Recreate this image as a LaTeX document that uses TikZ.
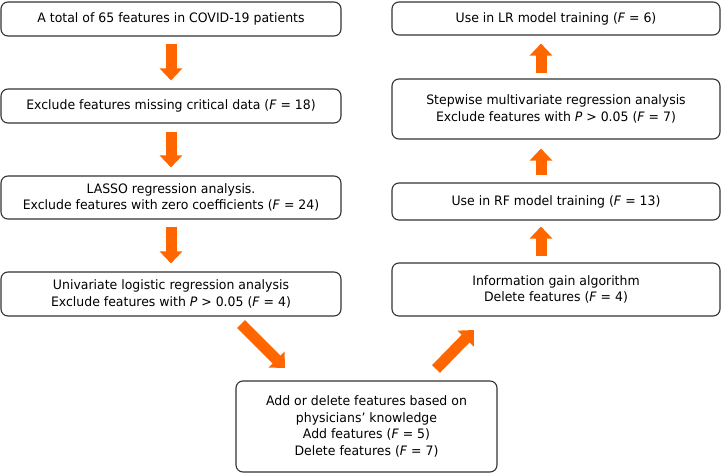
\documentclass[tikz,border=0pt]{standalone}
\usepackage{fontspec}
\setmainfont[FakeStretch=0.96]{DejaVu Sans}
\usetikzlibrary{arrows.meta}
\definecolor{arrorange}{HTML}{FF6600}
\definecolor{boxline}{HTML}{333333}
\tikzset{
  fbox/.style={draw=boxline, line width=1.1pt, rounded corners=7pt, align=center,
    inner sep=0pt, font=\fontsize{13}{16.8}\selectfont, text=black},
  barrow/.style={draw=arrorange, line width=11pt,
    -{Triangle[width=22pt,length=12pt]}}
}
\begin{document}
\begin{tikzpicture}[x=1pt,y=-1pt]
\useasboundingbox (0,0) rectangle (721,473);
% left column
\node[fbox, minimum width=340pt, minimum height=34pt] (L1) at (171,19)
  {A total of 65 features in COVID-19 patients};
\node[fbox, minimum width=340pt, minimum height=34pt] (L2) at (171,106)
  {Exclude features missing critical data (\textit{F} = 18)};
\node[fbox, minimum width=340pt, minimum height=43pt] (L3) at (171,197.5)
  {LASSO regression analysis.\\Exclude features with zero coefficients (\textit{F} = 24)};
\node[fbox, minimum width=340pt, minimum height=44pt] (L4) at (171,294)
  {Univariate logistic regression analysis\\Exclude features with \textit{P} > 0.05 (\textit{F} = 4)};
% bottom
\node[fbox, minimum width=261pt, minimum height=91pt] (B) at (366.5,426.5)
  {Add or delete features based on\\physicians’ knowledge\\Add features (\textit{F} = 5)\\Delete features (\textit{F} = 7)};
% right column
\node[fbox, minimum width=328pt, minimum height=33pt] (R1) at (556,18.5)
  {Use in LR model training (\textit{F} = 6)};
\node[fbox, minimum width=328pt, minimum height=60pt] (R2) at (556,109)
  {Stepwise multivariate regression analysis\\Exclude features with \textit{P} > 0.05 (\textit{F} = 7)};
\node[fbox, minimum width=328pt, minimum height=37pt] (R3) at (556,201.5)
  {Use in RF model training (\textit{F} = 13)};
\node[fbox, minimum width=328pt, minimum height=53pt] (R4) at (556,289.5)
  {Information gain algorithm\\Delete features (\textit{F} = 4)};
% arrows
\draw[barrow, shorten <=7pt, shorten >=8pt] (L1.south) -- (L2.north);
\draw[barrow, shorten <=8pt, shorten >=8pt] (L2.south) -- (L3.north);
\draw[barrow, shorten <=7pt, shorten >=8pt] (L3.south) -- (L4.north);
\coordinate (ra) at (541,0);
\draw[barrow, shorten <=6pt, shorten >=6pt] (R4.north -| ra) -- (R3.south -| ra);
\draw[barrow, shorten <=7pt, shorten >=9pt] (R3.north -| ra) -- (R2.south -| ra);
\draw[barrow, shorten <=5pt, shorten >=8pt] (R2.north -| ra) -- (R1.south -| ra);
\coordinate (d1a) at (241,324);
\coordinate (d1b) at (285,368);
\coordinate (d2a) at (436,369);
\coordinate (d2b) at (474,330);
\draw[barrow] (d1a) -- (d1b);
\draw[barrow] (d2a) -- (d2b);
\end{tikzpicture}
\end{document}
